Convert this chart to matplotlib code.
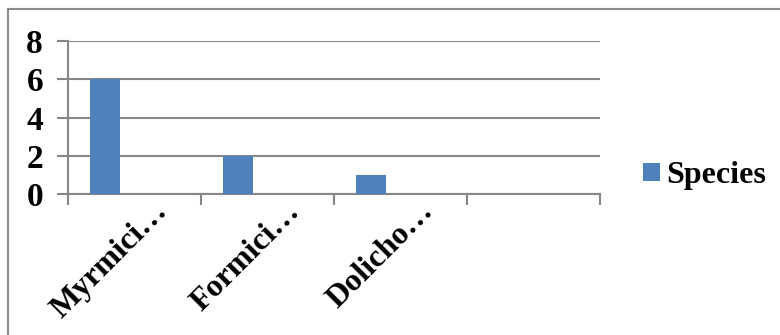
import matplotlib
matplotlib.use("Agg")
import matplotlib.pyplot as plt
import matplotlib.transforms as mtransforms
from matplotlib.patches import Rectangle
import numpy as np

categories = ["Myrmici…", "Formici…", "Dolicho…", ""]
species = [6, 2, 1, 0]
series_name = "Species"
y_ticks = [0, 2, 4, 6, 8]

bar_color = "#4F81BD"
grid_color = "#878787"
FONT = "Liberation Serif"

plt.rcParams["font.family"] = FONT
plt.rcParams["font.weight"] = "bold"

fig = plt.figure(figsize=(7.8, 3.35), dpi=100)
# outer chart border
fig.patches.append(Rectangle((8 / 780, -0.1), 1.2, 1 - 9 / 335 + 0.1,
                             transform=fig.transFigure, fill=False,
                             edgecolor="#8c8c8c", linewidth=1.5))

ax = fig.add_axes([68 / 780, 1 - 194 / 335, 532 / 780, 153 / 335])

x = np.arange(len(categories))
w = 1 / 4.5
ax.bar(x - 0.5 + 1.25 * w, species, width=w, color=bar_color, zorder=3,
       label=series_name)

ax.set_xlim(-0.5, len(categories) - 0.5)
ax.set_ylim(0, 8)
ax.set_yticks(y_ticks)
ax.set_yticklabels([str(t) for t in y_ticks], fontsize=24, fontweight="bold",
                   family=FONT)
ax.yaxis.grid(True, color=grid_color, linewidth=1.5, zorder=0)

# category boundaries carry the tick marks
ax.set_xticks(np.arange(len(categories) + 1) - 0.5)
ax.set_xticklabels([])
ax.tick_params(axis="x", direction="out", length=8, width=1.5, color=grid_color)
ax.tick_params(axis="y", direction="out", length=8, width=1.5, color=grid_color, pad=10)

for s in ["top", "right"]:
    ax.spines[s].set_visible(False)
ax.spines["left"].set_color(grid_color)
ax.spines["left"].set_linewidth(1.5)
ax.spines["bottom"].set_color(grid_color)
ax.spines["bottom"].set_linewidth(1.5)

offset = mtransforms.ScaledTranslation(0.285, -0.13, fig.dpi_scale_trans)
for xi, lab in zip(x, categories):
    ax.text(xi, 0, lab, transform=ax.get_xaxis_transform() + offset,
            rotation=45, ha="right", va="center", rotation_mode="anchor",
            fontsize=23, fontweight="bold", family=FONT)

leg = fig.legend(loc="center left", bbox_to_anchor=(643 / 780, 1 - 176 / 335),
                 frameon=False, handlelength=0.52, handleheight=0.52,
                 handletextpad=0.22, borderpad=0, borderaxespad=0,
                 prop={"family": FONT, "weight": "bold", "size": 23})

fig.savefig("out.png", dpi=100)
